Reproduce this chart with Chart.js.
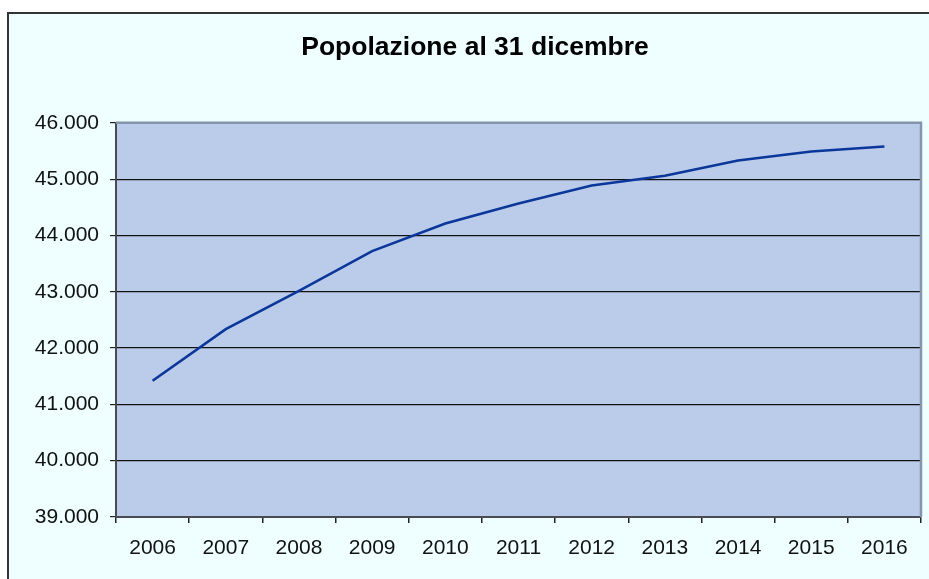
<!DOCTYPE html>
<html>
<head>
<meta charset="utf-8">
<script src="https://cdn.jsdelivr.net/npm/chart.js@4/dist/chart.umd.min.js"></script>
<style>
  html, body { margin: 0; padding: 0; overflow: hidden; background: #fff; }
  #frame {
    position: absolute; left: 7px; top: 12px; width: 1000px; height: 1000px;
    border-left: 2px solid #333; border-top: 2px solid #333; background: #efffff;
  }
  #wrap { position: absolute; left: 0; top: 0; width: 950px; height: 579px; }
</style>
</head>
<body>
<div id="frame"></div>
<div id="wrap"><canvas id="chart"></canvas></div>
<script>
// Popolazione al 31 dicembre
const years = ["2006", "2007", "2008", "2009", "2010", "2011", "2012", "2013", "2014", "2015", "2016"];
const population = [41419, 42337, 43014, 43721, 44213, 44568, 44886, 45059, 45330, 45490, 45579];
const yMin = 39000, yMax = 46000, yStep = 1000;

const fmt = (v) => String(Math.round(v)).replace(/\B(?=(\d{3})+(?!\d))/g, ".");

// plot background + grey frame on top/right (Excel style)
const plotFrame = {
  id: "plotFrame",
  beforeDraw(chart) {
    const { ctx, chartArea: a } = chart;
    ctx.save();
    ctx.fillStyle = "#bbcceb";
    ctx.fillRect(a.left, a.top, a.right - a.left, a.bottom - a.top);
    ctx.restore();
  },
  afterDraw(chart) {
    const { ctx, chartArea: a } = chart;
    ctx.save();
    ctx.strokeStyle = "#8494ad";
    ctx.lineWidth = 2.5;
    ctx.beginPath();
    ctx.moveTo(a.left, a.top);
    ctx.lineTo(a.right, a.top);
    ctx.lineTo(a.right, a.bottom);
    ctx.stroke();
    ctx.restore();
  }
};

const font = { family: "'Liberation Sans', Arial, sans-serif", size: 21 };

new Chart(document.getElementById("chart"), {
  type: "line",
  data: {
    labels: years,
    datasets: [{
      data: population,
      borderColor: "#0a3799",
      borderWidth: 2.6,
      pointRadius: 0,
      tension: 0,
      fill: false
    }]
  },
  options: {
    responsive: true, maintainAspectRatio: false, animation: false,
    layout: { padding: 0 },
    scales: {
      x: {
        offset: true,
        grid: { display: true, drawOnChartArea: false, drawTicks: true, tickLength: 6,
                offset: true, color: "#222", lineWidth: 1.5 },
        border: { display: true, color: "#4a4a55", width: 2 },
        ticks: { color: "#111", font, padding: 13, maxRotation: 0, autoSkip: false },
        afterFit: (s) => { s.height = 62; }
      },
      y: {
        min: yMin, max: yMax,
        grid: { color: "#111", lineWidth: 1.2, drawTicks: true, tickLength: 6, tickColor: "#222" },
        border: { display: true, color: "#4a4a55", width: 2 },
        ticks: { stepSize: yStep, color: "#111", font, padding: 11, callback: (v) => fmt(v) },
        afterFit: (s) => { s.width = 116; }
      },
      // empty right-hand spacer so the title centres on the whole frame
      spacer: {
        position: "right", display: true,
        grid: { display: false }, border: { display: false }, ticks: { display: false },
        afterFit: (s) => { s.width = 29; }
      }
    },
    plugins: {
      legend: { display: false },
      tooltip: { enabled: false },
      title: {
        display: true,
        text: "Popolazione al 31 dicembre",
        color: "#000",
        font: { family: "'Liberation Sans', Arial, sans-serif", size: 26.5, weight: "bold", lineHeight: 1.2 },
        padding: { top: 32, bottom: 59 }
      }
    }
  },
  plugins: [plotFrame]
});
</script>
</body>
</html>
